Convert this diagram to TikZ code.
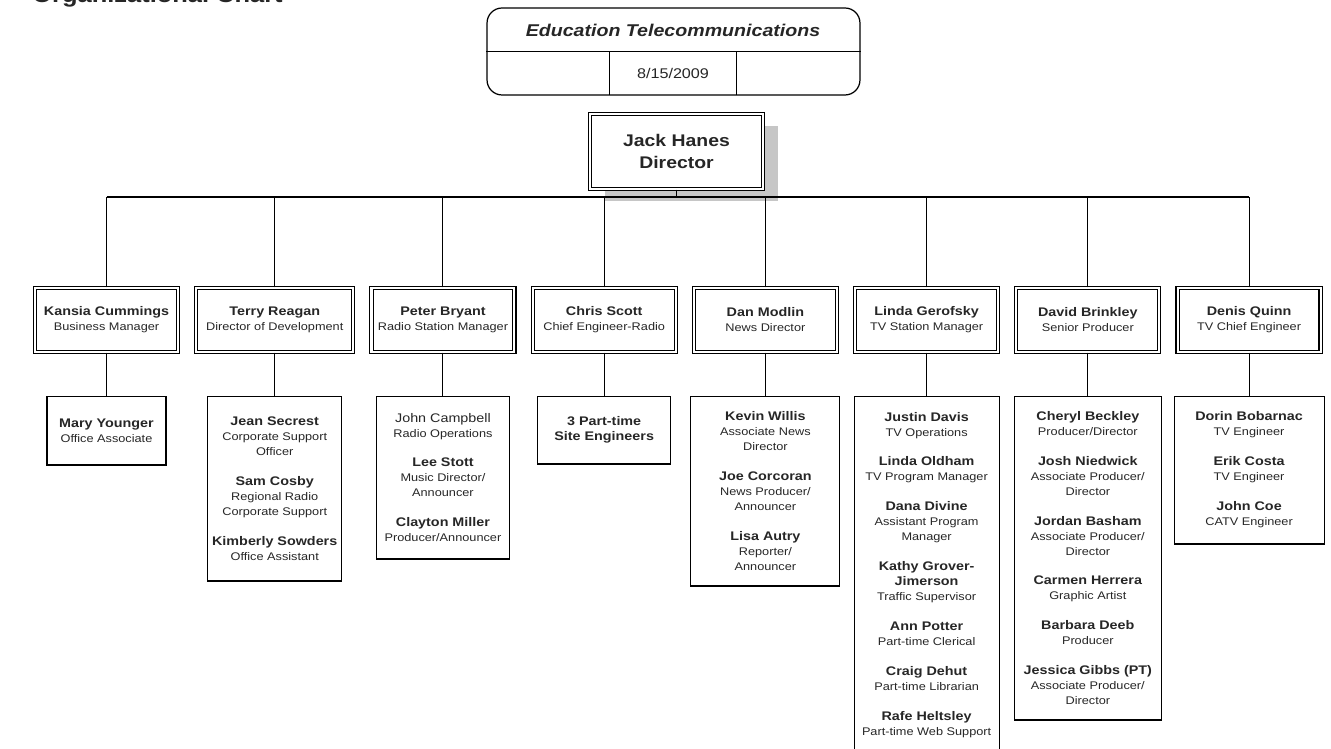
\documentclass[tikz,border=0pt]{standalone}
\usepackage{fontspec}
\setmainfont{Liberation Sans}[FakeStretch=1.15]
\usepackage{tikz}
\usetikzlibrary{positioning, shadows}

\newcommand\ptsize{\fontsize{6.3pt}{8.54pt}\selectfont}
\newcommand\pname[1]{{\fontsize{7.1pt}{8.54pt}\selectfont\bfseries #1}}
\newcommand\pplain[1]{{\fontsize{7.1pt}{8.54pt}\selectfont #1}}

\begin{document}
\begin{tikzpicture}[
    x=0.02cm, y=-0.02cm,
    node distance=0.86cm and 0.344cm,
    mgr/.style={
        rectangle, draw, double, double distance=1.2pt, line width=0.6pt,
        minimum width=2.86cm, minimum height=1.28cm,
        align=center, font=\ptsize, text=black!85
    },
    staff/.style={
        rectangle, draw, line width=0.6pt, inner sep=2pt,
        align=center, font=\ptsize, text=black!85
    },
    link/.style={line width=0.6pt}
]
\useasboundingbox (0,0) rectangle (1331,749);

% --- Header ---
\node[font=\fontsize{12.6pt}{14pt}\selectfont\bfseries, anchor=base west,
      inner sep=0pt, text=black!85] (charttitle) at (32,3) {Organizational Chart};

\node[draw, line width=0.7pt, rounded corners=0.3cm,
      minimum width=7.46cm, minimum height=1.74cm] (hdr) at (673.5,51.5) {};
\node[font=\fontsize{9.7pt}{11pt}\selectfont\bfseries\itshape, text=black!85]
    (htitle) at (673,30) {Education Telecommunications};
\node[minimum width=2.52cm, minimum height=0.86cm,
      font=\fontsize{8pt}{9pt}\selectfont, text=black!85] (hdate) at (673,73.5) {8/15/2009};
\draw[line width=0.7pt] (hdr.west |- hdate.north) -- (hdr.east |- hdate.north)
    (hdate.north west) -- (hdate.south west)
    (hdate.north east) -- (hdate.south east);

% --- Director ---
\node[mgr, fill=white, minimum width=3.46cm, minimum height=1.5cm,
      font=\fontsize{9.6pt}{12.5pt}\selectfont\bfseries,
      drop shadow={shadow xshift=0.3cm, shadow yshift=-0.24cm, fill=gray!45, opacity=1}]
    (dir) at (676.5,151.5) {Jack Hanes\\Director};

% --- Managers ---
\node[mgr] (m1) at (106.5,320) {\pname{Kansia Cummings}\\Business Manager};
\node[mgr, minimum width=3.14cm, right=of m1] (m2) {\pname{Terry Reagan}\\Director of Development};
\node[mgr, right=of m2] (m3) {\pname{Peter Bryant}\\Radio Station Manager};
\node[mgr, right=of m3] (m4) {\pname{Chris Scott}\\Chief Engineer-Radio};
\node[mgr, right=of m4] (m5) {\pname{Dan Modlin}\\News Director};
\node[mgr, right=of m5] (m6) {\pname{Linda Gerofsky}\\TV Station Manager};
\node[mgr, right=of m6] (m7) {\pname{David Brinkley}\\Senior Producer};
\node[mgr, right=of m7] (m8) {\pname{Denis Quinn}\\TV Chief Engineer};

% --- Staff ---
\node[staff, below=of m1, minimum width=2.38cm, minimum height=1.38cm] (s1)
    {\pname{Mary Younger}\\Office Associate};
\node[staff, below=of m2, minimum width=2.68cm, minimum height=3.7cm] (s2)
    {\pname{Jean Secrest}\\Corporate Support\\Officer\\[8.5pt]
     \pname{Sam Cosby}\\Regional Radio\\Corporate Support\\[8.5pt]
     \pname{Kimberly Sowders}\\Office Assistant};
\node[staff, below=of m3, minimum width=2.66cm, minimum height=3.26cm] (s3)
    {\pplain{John Campbell}\\Radio Operations\\[8.5pt]
     \pname{Lee Stott}\\Music Director/\\Announcer\\[8.5pt]
     \pname{Clayton Miller}\\Producer/Announcer};
\node[staff, below=of m4, minimum width=2.66cm, minimum height=1.36cm] (s4)
    {\pname{3 Part-time}\\\pname{Site Engineers}};
\node[staff, below=of m5, minimum width=2.98cm, minimum height=3.8cm] (s5)
    {\pname{Kevin Willis}\\Associate News\\Director\\[8.5pt]
     \pname{Joe Corcoran}\\News Producer/\\Announcer\\[8.5pt]
     \pname{Lisa Autry}\\Reporter/\\Announcer};
\node[staff, below=of m6, minimum width=2.9cm, minimum height=7.16cm] (s6)
    {\pname{Justin Davis}\\TV Operations\\[8.5pt]
     \pname{Linda Oldham}\\TV Program Manager\\[8.5pt]
     \pname{Dana Divine}\\Assistant Program\\Manager\\[8.5pt]
     \pname{Kathy Grover-}\\\pname{Jimerson}\\Traffic Supervisor\\[8.5pt]
     \pname{Ann Potter}\\Part-time Clerical\\[8.5pt]
     \pname{Craig Dehut}\\Part-time Librarian\\[8.5pt]
     \pname{Rafe Heltsley}\\Part-time Web Support};
\node[staff, below=of m7, minimum width=2.94cm, minimum height=6.48cm] (s7)
    {\pname{Cheryl Beckley}\\Producer/Director\\[8.5pt]
     \pname{Josh Niedwick}\\Associate Producer/\\Director\\[8.5pt]
     \pname{Jordan Basham}\\Associate Producer/\\Director\\[8.5pt]
     \pname{Carmen Herrera}\\Graphic Artist\\[8.5pt]
     \pname{Barbara Deeb}\\Producer\\[8.5pt]
     \pname{Jessica Gibbs (PT)}\\Associate Producer/\\Director};
\node[staff, below=of m8, minimum width=3cm, minimum height=2.96cm] (s8)
    {\pname{Dorin Bobarnac}\\TV Engineer\\[8.5pt]
     \pname{Erik Costa}\\TV Engineer\\[8.5pt]
     \pname{John Coe}\\CATV Engineer};

% --- Links ---
\coordinate (bus) at (0,197);
\draw[link] (dir.south) -- (dir.south |- bus);
\draw[link] (m1.north |- bus) -- (m8.north |- bus);
\foreach \i in {1,...,8} {
    \draw[link] (m\i.north) -- (m\i.north |- bus);
    \draw[link] (m\i.south) -- (s\i.north);
}

\end{tikzpicture}
\end{document}
